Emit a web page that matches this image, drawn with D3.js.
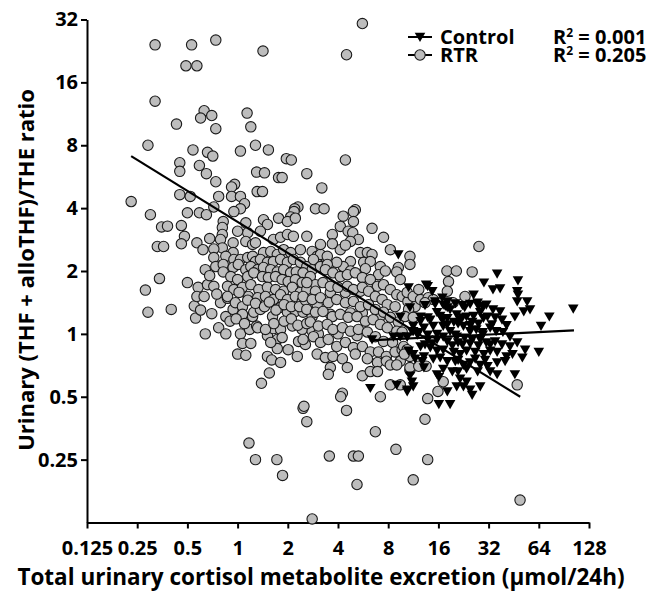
<!DOCTYPE html>
<html>
<head>
<meta charset="utf-8">
<script src="https://cdn.jsdelivr.net/npm/d3@7"></script>
<style>
  body { margin: 0; background: #fff; }
  text { font-family: 'Open Sans', sans-serif; font-weight: 700; }
</style>
</head>
<body>
<script>
const xTicks = [0.125, 0.25, 0.5, 1, 2, 4, 8, 16, 32, 64, 128];
const xTickLabels = ['0.125', '0.25', '0.5', '1', '2', '4', '8', '16', '32', '64', '128'];
const yTicks = [0.25, 0.5, 1, 2, 4, 8, 16, 32];
const yTickLabels = ['0.25', '0.5', '1', '2', '4', '8', '16', '32'];

const seriesNames = ['Control', 'RTR'];
const rSquared = ['0.001', '0.205'];

// regression lines, [excretion, ratio] end points
const controlFit = [[6.2, 0.93], [104, 1.04]];
const rtrFit = [[0.23, 7.1], [49.5, 0.5]];

// renal transplant recipients [excretion, ratio]
const rtr = [
    [0.32,24.2],[0.53,24.2],[0.74,25.5],[1.42,22.6],[0.49,19.2],[0.57,19.2],[0.32,13.0],[0.63,11.7],[0.60,10.8],[0.70,11.1],
    [1.14,11.4],[0.43,10.1],[0.74,9.6],[1.20,9.8],[0.29,8.0],[1.28,8.0],[0.54,7.6],[0.66,7.4],[0.71,7.1],[1.04,7.5],
    [1.53,7.6],[0.45,6.6],[0.45,6.0],[0.59,6.4],[0.65,5.85],[0.74,5.35],[1.30,5.95],[1.45,5.9],[1.76,5.6],[0.96,5.2],
    [0.92,5.05],[0.45,4.64],[0.52,4.55],[0.77,4.55],[0.92,4.55],[1.04,4.55],[1.31,4.8],[1.41,4.8],[1.10,4.2],[1.04,3.97],
    [0.23,4.3],[0.72,4.05],
    [5.6,30.6],[4.5,21.7],[4.43,6.8],[1.96,6.9],[2.1,6.8],[2.6,5.85],[1.85,5.6],[3.2,5.0],[2.3,4.05],[2.2,3.97],
    [2.93,3.97],[3.3,3.97],[5.08,3.93],
    [0.30,3.72],[0.35,3.25],[0.38,3.28],[0.46,3.3],[0.48,2.93],[0.46,2.7],[0.33,2.62],[0.36,2.62],[0.5,3.8],[0.59,3.8],
    [0.65,3.72],[0.57,2.73],[0.62,2.53],[0.68,2.86],[0.34,1.84],[0.28,1.62],[0.29,1.27],[0.40,1.31],[0.5,1.76],[0.64,2.03],
    [0.55,1.36],[0.56,1.19],[0.58,1.67],[0.57,1.51],[0.63,1.51],[0.64,1.0],[0.77,1.07],[0.85,1.0],[0.85,1.21],[0.79,1.41],
    [0.87,1.48],[0.94,1.31],[1.04,1.0],[1.07,0.9],[1.20,0.9],[1.0,0.80],[1.12,0.79],[1.18,1.05],[1.30,1.09],[1.23,1.21],
    [1.51,0.98],[1.64,1.06],[1.51,0.78],[1.6,0.75],[1.73,0.94],[1.73,0.85],[1.55,0.65],[1.39,0.58],[1.81,0.73],
    [0.95,3.85],[2.18,3.85],[2.08,3.63],[1.76,3.58],[1.99,3.45],[2.22,3.58],[1.43,3.52],[1.51,3.34],[0.82,3.45],[0.81,3.23],
    [0.81,2.99],[1.12,3.4],[1.15,3.05],[1.0,3.1],[1.37,3.1],
    [0.79,2.83],[0.81,2.58],[0.72,2.55],[0.94,2.73],[0.94,2.45],[1.12,2.77],[1.23,2.68],[1.28,2.73],[1.64,2.83],[1.81,2.9],
    [1.99,2.99],[2.16,2.93],[2.6,2.93],[2.38,2.53],[2.8,2.48],[3.0,2.35],[3.05,2.15],[1.43,2.45],[1.58,2.48],[1.73,2.4],
    [1.89,2.53],[2.08,2.45],
    [0.72,2.32],[0.85,2.35],[0.95,2.27],[1.04,2.27],[1.15,2.32],[1.23,2.35],[1.28,2.22],[1.37,2.27],[1.51,2.2],[1.64,2.22],
    [1.81,2.27],[1.99,2.2],[2.16,2.27],[2.38,2.2],[2.6,2.1],[2.8,2.03],
    [0.74,2.1],[0.82,2.15],[0.94,2.08],[1.01,2.15],[1.12,2.03],[1.2,2.1],[1.32,2.03],[1.43,2.08],[1.58,2.03],[1.73,1.98],
    [1.89,2.03],[2.08,1.96],[2.25,1.98],[2.47,1.96],[2.73,1.88],
    [0.82,1.98],[0.91,1.88],[1.0,1.82],[1.15,1.88],[1.25,1.96],[1.41,1.88],[1.53,1.86],[1.69,1.88],[1.85,1.82],[2.01,1.78],
    [2.22,1.82],[2.44,1.76],[2.66,1.72],[2.93,1.72],[0.66,1.72],[0.72,1.69],
    [0.87,1.69],[0.95,1.63],[1.07,1.67],[1.2,1.72],[1.34,1.63],[1.51,1.67],[1.69,1.63],[1.89,1.6],[2.13,1.67],[2.38,1.58],
    [2.6,1.63],[2.93,1.6],
    [0.87,1.51],[0.97,1.41],[1.07,1.35],[1.16,1.51],[1.32,1.49],[1.47,1.51],[1.64,1.46],[1.81,1.54],[1.99,1.46],[2.22,1.51],
    [2.44,1.43],[2.73,1.41],[3.0,1.46],
    [1.07,1.24],[1.25,1.27],[1.37,1.31],[1.62,1.21],[1.81,1.34],[1.99,1.27],[2.22,1.28],[2.47,1.27],[2.8,1.21],
    [1.32,1.07],[1.47,1.05],[1.81,1.05],[2.13,1.09],[2.44,1.05],[2.8,1.03],
    [1.58,0.91],[1.85,0.96],[2.32,0.92],[2.55,0.89],[2.01,0.84],[2.28,0.78],
    [0.6,1.3],[0.7,1.25],[0.75,1.55],[0.68,1.9],[0.9,1.15],[0.98,1.18],[1.1,1.12],[1.15,1.45],[1.02,1.58],[1.28,1.4],
    [1.45,1.35],[1.55,1.42],[1.7,1.3],[1.9,1.38],[2.1,1.35],[2.35,1.35],[1.65,1.12],[1.9,1.15],[2.1,1.18],[2.3,1.1],
    [2.6,1.12],
    [4.3,3.66],[4.95,3.85],[4.95,3.45],[4.13,3.27],[4.6,3.1],[4.9,3.05],[5.3,2.83],[4.75,2.77],[3.7,2.99],[6.4,3.2],
    [7.5,2.9],[8.24,2.53],[10.8,2.35],[10.8,2.15],[9.2,2.08],[9.0,1.98],[9.45,1.82],[4.13,2.53],[3.14,2.4],[3.45,2.35],
    [5.45,2.45],[6.0,2.45],[6.4,2.4],[7.18,2.1],[7.0,1.92],[5.7,2.2],[6.25,2.22],[4.75,2.22],[4.3,2.1],[3.93,2.2],
    [2.85,2.27],[3.14,2.1],[3.45,2.15],
    [3.14,2.68],[3.7,2.7],[4.43,2.66],[3.36,2.03],[4.75,2.0],[5.84,2.05],[7.69,2.0],[3.6,1.58],[4.43,1.58],[5.45,1.6],
    [6.4,1.6],[3.6,1.24],[4.75,1.26],[5.6,1.26],[7.18,1.22],[3.05,1.0],[4.0,1.0],[5.2,0.98],[2.55,1.45],[3.0,1.38],
    [3.73,1.96],[4.13,1.88],[4.55,1.92],[5.08,1.96],[5.6,1.86],[6.25,1.82],[6.9,1.69],[7.5,1.72],[8.24,1.63],[9.0,1.54],
    [9.7,1.51],[10.5,1.43],
    [2.6,1.76],[3.25,1.76],[3.6,1.69],[4.0,1.67],[4.55,1.69],[4.95,1.63],[5.6,1.67],[6.1,1.6],[6.7,1.51],[7.35,1.46],
    [7.9,1.38],[8.8,1.35],
    [2.47,1.51],[2.8,1.46],[3.14,1.49],[3.5,1.41],[3.93,1.46],[4.43,1.41],[4.95,1.43],[5.45,1.35],[6.1,1.38],[6.7,1.31],
    [7.5,1.27],[8.24,1.2],[9.2,1.14],
    [2.6,1.31],[2.93,1.27],[3.25,1.28],[3.7,1.21],[4.13,1.24],[4.6,1.2],[5.2,1.21],[5.84,1.15],[6.5,1.17],[7.18,1.11],
    [7.9,1.07],[9.0,1.03],[9.7,1.02],
    [2.73,1.14],[3.05,1.09],[3.45,1.11],[3.73,1.05],[4.25,1.07],[4.75,1.03],[5.3,1.05],[6.0,1.02],[6.7,0.97],[7.5,0.92],
    [8.5,0.91],
    [2.47,0.94],[2.85,0.97],[3.14,0.91],[3.5,0.94],[3.93,0.87],[4.43,0.91],[4.95,0.86],[5.6,0.87],[6.25,0.82],[7.0,0.82],
    [7.8,0.78],[8.8,0.82],[9.7,0.84],[10.8,0.78],
    [3.0,0.8],[3.36,0.77],[3.73,0.78],[4.25,0.76],[5.08,0.8],[6.0,0.76],[6.9,0.73],[7.8,0.74],[9.45,0.74],
    [3.6,0.69],[3.5,0.64],[4.55,0.69],[5.6,0.63],[6.25,0.66],[6.9,0.66],[8.24,0.71],[9.0,0.71],[10.8,0.67],
    [4.25,0.52],[7.18,0.5],[8.24,0.57],[9.45,0.57],
    [28,2.62],[18.0,2.0],[20.5,2.0],[25.5,1.98],[18.4,1.78],[18.1,1.6],[23.1,1.51],[19.6,1.41],[10.4,1.58],[11.3,1.51],
    [12.2,1.63],[11.6,1.35],[10.6,1.31],[10.1,1.21],[11.3,1.2],[12.5,1.46],[13.9,1.49],[14.9,1.46],[13.3,1.41],[9.9,0.87],
    [10.4,0.84],[10.0,0.8],[10.8,0.69],[12.2,0.7],[13.5,0.7],[17.1,0.59],[15.9,0.53],[13.8,0.49],[47.5,0.57],
    [4.15,0.5],[2.47,0.44],[2.5,0.45],[2.6,0.38],[4.5,0.43],[13.3,0.39],[1.17,0.30],[6.7,0.34],[8.9,0.28],[1.28,0.25],
    [1.72,0.25],[1.86,0.21],[3.55,0.26],[4.95,0.26],[5.3,0.26],[13.8,0.25],[11.3,0.2],[5.2,0.19],[2.8,0.13],[49.4,0.16]
];

// healthy controls [excretion, ratio]
const control = [
    [36,1.94],[30,1.76],[48,1.8],[34,1.63],[37.5,1.65],[47.5,1.6],[48,1.54],[13.5,1.72],[14.7,1.6],[16.9,1.49],
    [18.1,1.43],[26,1.54],[27.5,1.41],[47.5,1.43],[54.5,1.43],[56.7,1.31],[52,1.28],[74,1.21],[103,1.32],[66,1.09],
    [46,1.21],[34,1.31],[37.5,1.28],[31.5,1.21],[38.5,1.17],[41,1.1],[29.5,1.35],[28.5,1.27],[23,1.34],[23.6,1.21],
    [25.5,1.14],[18.8,1.31],[20.6,1.24],[21.6,1.17],[19.8,1.14],[15.7,1.27],[16.9,1.17],[14.3,1.17],[14.9,1.09],[17.1,1.09],
    [12.5,1.15],[13.1,1.07],[11.3,1.09],[12.0,0.99],[10.4,0.97],[11.1,1.03],
    [22.6,1.09],[24.8,1.03],[27,1.05],[29.5,1.02],[32.7,1.07],[35.5,1.03],[39,1.02],[43,0.97],
    [18.8,1.03],[20.6,0.97],[17.1,0.97],[15.7,0.94],[18.1,0.92],[21,0.91],[23,0.96],[25.5,0.94],[28.5,0.94],[31,0.91],
    [35,0.92],[38.5,0.89],[43,0.87],[47.5,0.91],
    [13.8,0.94],[12.5,0.87],[14.3,0.86],[15.7,0.83],[17.1,0.84],
    [19.8,0.82],[21.6,0.8],[23.6,0.83],[26.6,0.82],[30,0.8],[32.7,0.83],[36,0.82],[41,0.78],[44.5,0.8],[51,0.77],
    [53,0.84],[64,0.82],
    [16.4,0.77],[14.9,0.76],[18.1,0.74],[20.2,0.74],[22.6,0.71],[24.8,0.73],[28.5,0.71],[31.5,0.7],[36,0.73],[13.1,0.78],
    [11.3,0.8],
    [17.1,0.68],[19.4,0.66],[21,0.66],[23.6,0.68],[27.5,0.66],[21.6,0.61],[23.6,0.59],[20.6,0.56],[22.6,0.56],[24.8,0.54],
    [15.7,0.64],[16.1,0.62],[28.5,0.56],[32.7,0.66],[36,0.64],[46,0.64],[18.1,0.53],[25.5,0.51],[16.1,0.46],[18.8,0.46],
    [10.8,0.63],[11.3,0.56],[10.4,0.53],[13.1,0.69],[12.8,0.74],[18.1,1.34],[17.1,1.38],[15.3,1.43],[12.5,1.21],[10.8,1.34],
    [9.2,2.4],[10.6,1.67],[9.45,1.21],[11.3,1.03],[12.2,1.02],[6.4,0.94],[8.6,0.97],[9.45,0.97],[10.4,0.97],[10.6,0.83],
    [11.6,0.76],[6.25,0.55],[9.0,0.57],[10.4,0.54],[11.1,0.59],[13.8,1.69],
    [13.3,1.37],[15.3,1.39],[17.6,1.36],[20.2,1.4],[22.3,1.37],[24.8,1.39],[27.8,1.36],[31,1.38],
    [13.8,1.2],[16.4,1.22],[18.1,1.19],[22.3,1.2],[26,1.22],[29.8,1.19],[35,1.2],
    [18.1,1.11],[21,1.12],[24.8,1.1],[27.8,1.12],[33.5,1.11],
    [13.3,0.89],[14.7,0.9],[19.4,0.88],[22.3,0.89],[24.8,0.9],[27.8,0.88],[32.7,0.89],
    [21,0.75],[26.6,0.76],[30.5,0.75],[40.2,0.74],
    [13.8,0.99],[15.7,1.0],[20.2,0.99],[29.5,0.99]
];

const width = 646;
const height = 593;

const svg = d3.select('body')
              .append('svg')
              .attr('width', width)
              .attr('height', height);

const x = d3.scaleLog().base(2).domain([0.125, 128]).range([87, 589]);
const y = d3.scaleLog().base(2).domain([0.125, 32]).range([522.5, 19.5]);

const triangle = 'M-5.3,-4.2 L5.3,-4.2 L0,5 Z';
const dotRadius = 5.2;

// axes
const xAxis = svg.append('g')
    .attr('transform', `translate(0, ${y(0.125)})`)
    .call(d3.axisBottom(x)
        .tickValues(xTicks)
        .tickFormat((d, i) => xTickLabels[i])
        .tickSize(6)
        .tickSizeOuter(0));

const yAxis = svg.append('g')
    .attr('transform', `translate(${x(0.125)}, 0)`)
    .call(d3.axisLeft(y)
        .tickValues(yTicks)
        .tickFormat((d, i) => yTickLabels[i])
        .tickSize(6)
        .tickSizeOuter(0));

[xAxis, yAxis].forEach(a => {
    a.select('.domain').attr('stroke', '#000').attr('stroke-width', 2);
    a.selectAll('.tick line').attr('stroke', '#000').attr('stroke-width', 2);
    a.selectAll('.tick text')
        .attr('fill', '#000')
        .style('font-size', '20px')
        .style('font-family', "'Open Sans', sans-serif")
        .style('font-weight', 700);
});
xAxis.selectAll('.tick text').attr('y', 32).attr('dy', null);
yAxis.selectAll('.tick text').attr('x', -9);

// RTR points
svg.append('g')
    .selectAll('circle')
    .data(rtr)
    .enter()
    .append('circle')
    .attr('cx', d => x(d[0]))
    .attr('cy', d => y(d[1]))
    .attr('r', dotRadius)
    .attr('fill', '#bdbdbd')
    .attr('stroke', '#1a1a1a')
    .attr('stroke-width', 1.1);

// regression lines
const line = d3.line().x(d => x(d[0])).y(d => y(d[1]));
[rtrFit, controlFit].forEach(fit => {
    svg.append('path')
        .attr('d', line(fit))
        .attr('fill', 'none')
        .attr('stroke', '#000')
        .attr('stroke-width', 2.2);
});

// control points
svg.append('g')
    .selectAll('path')
    .data(control)
    .enter()
    .append('path')
    .attr('d', triangle)
    .attr('transform', d => `translate(${x(d[0])}, ${y(d[1])})`)
    .attr('fill', '#000');

// legend
const legend = svg.append('g');
seriesNames.forEach((name, i) => {
    const ly = 37 + i * 18;
    legend.append('line')
        .attr('x1', 408).attr('x2', 432)
        .attr('y1', ly).attr('y2', ly)
        .attr('stroke', '#000').attr('stroke-width', 2);
    if (i === 0) {
        legend.append('path')
            .attr('d', triangle)
            .attr('transform', `translate(420, ${ly})`)
            .attr('fill', '#000');
    } else {
        legend.append('circle')
            .attr('cx', 420).attr('cy', ly).attr('r', dotRadius)
            .attr('fill', '#bdbdbd').attr('stroke', '#1a1a1a').attr('stroke-width', 1.1);
    }
    legend.append('text')
        .attr('x', 440).attr('y', ly + 7)
        .style('font-size', '20px')
        .text(name);
    const r2 = legend.append('text')
        .attr('x', 553).attr('y', ly + 7)
        .style('font-size', '20px');
    r2.append('tspan').text('R');
    r2.append('tspan').attr('dy', -7).style('font-size', '12px').text('2');
    r2.append('tspan').attr('dy', 7).text(` = ${rSquared[i]}`);
});

// axis titles
svg.append('text')
    .attr('x', 321).attr('y', 585)
    .attr('text-anchor', 'middle')
    .style('font-size', '22.5px')
    .text('Total urinary cortisol metabolite excretion (\u03bcmol/24h)');

svg.append('text')
    .attr('transform', 'translate(34, 270) rotate(-90)')
    .attr('text-anchor', 'middle')
    .style('font-size', '22px')
    .text('Urinary (THF + alloTHF)/THE ratio');
</script>
</body>
</html>
